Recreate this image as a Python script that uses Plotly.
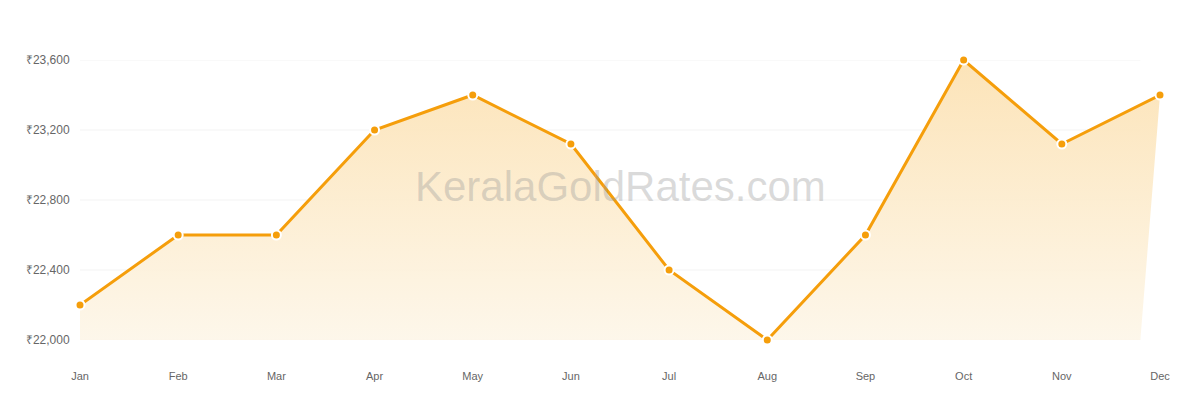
import plotly.graph_objects as go

months = ['Jan', 'Feb', 'Mar', 'Apr', 'May', 'Jun', 'Jul', 'Aug', 'Sep', 'Oct', 'Nov', 'Dec']
rates = [22200, 22600, 22600, 23200, 23400, 23120, 22400, 22000, 22600, 23600, 23120, 23400]
y_ticks = [22000, 22400, 22800, 23200, 23600]

idx = list(range(len(months)))
base = y_ticks[0]
# plot area in the original stops a bit before the last category
area_end = 10.8

fig = go.Figure()

# gradient area under the line
fig.add_trace(go.Scatter(
    x=[0] + idx + [area_end],
    y=[base] + rates + [base],
    mode='none',
    fill='toself',
    fillgradient=dict(type='vertical',
                      colorscale=[[0, 'rgba(253,246,232,0.9)'], [1, 'rgba(252,226,180,0.95)']]),
    hoverinfo='skip', showlegend=False,
))

# grid lines (stop where the plot area ends)
for t in y_ticks:
    fig.add_shape(type='line', xref='x', yref='y', x0=0, x1=area_end, y0=t, y1=t,
                  line=dict(color='#f3f3f3', width=1), layer='below')

fig.add_trace(go.Scatter(
    x=idx, y=rates, mode='lines+markers',
    line=dict(color='#f59e0b', width=3),
    marker=dict(size=9, color='#f59e0b', line=dict(color='white', width=2)),
    cliponaxis=False, showlegend=False,
))

fig.add_annotation(text='KeralaGoldRates.com', xref='paper', yref='paper',
                   x=0.5, y=0.55, showarrow=False,
                   font=dict(family='Liberation Sans, Arial', size=42, color='rgba(150,150,150,0.35)'))

fig.update_layout(
    width=1200, height=400,
    margin=dict(l=72, r=48, t=52, b=68),
    plot_bgcolor='white', paper_bgcolor='white',
    font=dict(family='Liberation Sans, Arial', size=11, color='#666'),
)
fig.update_xaxes(range=[0, 11], tickvals=idx, ticktext=months, showgrid=False,
                 zeroline=False, showline=False, ticks='outside', ticklen=26,
                 tickcolor='rgba(0,0,0,0)')
fig.update_yaxes(range=[22000, 23600], tickvals=y_ticks,
                 ticktext=['₹{:,}'.format(v) for v in y_ticks],
                 tickfont=dict(size=12),
                 showgrid=False, zeroline=False, showline=False,
                 ticks='outside', ticklen=7, tickcolor='rgba(0,0,0,0)')

fig.write_html('out.html')
